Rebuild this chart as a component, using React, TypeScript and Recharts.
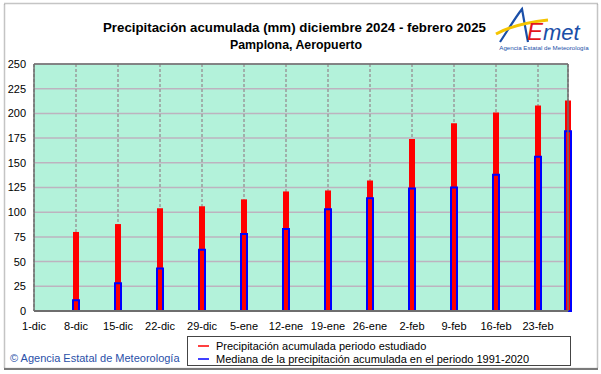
import React from 'react';
import { ComposedChart, Bar, XAxis, YAxis, CartesianGrid, ReferenceLine } from 'recharts';

const tickDays = [0, 7, 14, 21, 28, 35, 42, 49, 56, 63, 70, 77, 84];
const tickLabels = ['1-dic', '8-dic', '15-dic', '22-dic', '29-dic', '5-ene', '12-ene', '19-ene', '26-ene', '2-feb', '9-feb', '16-feb', '23-feb'];
const barDays = [7, 14, 21, 28, 35, 42, 49, 56, 63, 70, 77, 84, 89];
const precipitacion = [80, 88, 104, 106, 113, 121, 122, 132, 174, 190, 201, 208, 213];
const mediana = [11, 28, 43, 62, 78, 83, 103, 114, 124, 125, 138, 156, 182];
const yTicks = [0, 25, 50, 75, 100, 125, 150, 175, 200, 225, 250];

const data = barDays.map((d, i) => ({ day: d, precip: precipitacion[i], median: mediana[i] }));

const FONT = '"Liberation Sans", Arial, sans-serif';

export default function App() {
  return (
    <div style={{ position: 'absolute', left: 0, top: 0, width: 601, height: 374, background: '#fff' }}>
      <ComposedChart width={601} height={374} data={data} margin={{ top: 64, right: 33, bottom: 33, left: 0 }}>
        <CartesianGrid horizontal={true} vertical={false} stroke="#bdb3bf" strokeWidth={1.5} fill="#b3f2da" />
        <CartesianGrid horizontal={false} vertical={true} stroke="#9a9a9a" strokeDasharray="3 2" strokeWidth={1.5} xAxisId="a" />
        <XAxis xAxisId="a" dataKey="day" type="number" domain={[0, 89]} ticks={tickDays} interval={0}
          tickFormatter={(v: number) => tickLabels[tickDays.indexOf(v)]}
          tickLine={false} axisLine={{ stroke: '#6e6e6e', strokeWidth: 2 }} tickMargin={5}
          tick={{ fill: '#000', fontSize: 11, fontFamily: FONT }} />
        <XAxis xAxisId="b" dataKey="day" type="number" domain={[0, 89]} ticks={tickDays} hide />
        <YAxis domain={[0, 250]} ticks={yTicks} width={34} tickLine={false} interval={0}
          axisLine={{ stroke: '#6e6e6e', strokeWidth: 1.5 }}
          tick={{ fill: '#000', fontSize: 11, fontFamily: FONT }} />
        <ReferenceLine y={250} xAxisId="a" stroke="#6e6e6e" strokeWidth={1.5} />
        <ReferenceLine x={89} xAxisId="a" stroke="#6e6e6e" strokeWidth={1.5} />
        <Bar xAxisId="a" dataKey="precip" barSize={6} fill="#ff0000" isAnimationActive={false} />
        <Bar xAxisId="b" dataKey="median" barSize={6} fill="#ff0000" stroke="#0000ff" strokeWidth={2} isAnimationActive={false} />
      </ComposedChart>
      <svg width={601} height={374} style={{ position: 'absolute', left: 0, top: 0, pointerEvents: 'none' }}>
        <rect x={4.5} y={3.5} width={593} height={365} fill="none" stroke="#8a8a8a" strokeWidth={1.5} strokeDasharray="1 1" />
        <line x1={4} y1={369} x2={598} y2={369} stroke="#7a7a7a" strokeWidth={2} />
        <text x={103} y={32} textLength={383} lengthAdjust="spacingAndGlyphs" fontFamily={FONT} fontWeight="bold" fontSize={13} fill="#000">
          Precipitación acumulada (mm) diciembre 2024 - febrero 2025
        </text>
        <text x={230} y={49} textLength={132} lengthAdjust="spacingAndGlyphs" fontFamily={FONT} fontWeight="bold" fontSize={13} fill="#000">
          Pamplona, Aeropuerto
        </text>
        {/* logo */}
        <g>
          <path d="M500 42 C 508 30, 515 18, 522 9 C 524 20, 526 32, 528 42" fill="none" stroke="#1a4fa8" strokeWidth={2.2} />
          <path d="M496 34 C 510 26, 530 22, 548 20" fill="none" stroke="#f5c400" strokeWidth={3} />
          <text x={527} y={40} fontFamily={FONT} fontStyle="italic" fontSize={24} fill="#e3161b">E</text>
          <text x={543} y={40} fontFamily={FONT} fontStyle="italic" fontSize={22} fill="#1a4fa8">met</text>
          <text x={544} y={50} textAnchor="middle" fontFamily={FONT} fontSize={6.2} fill="#1a4fa8">Agencia Estatal de Meteorología</text>
        </g>
        {/* legend */}
        <rect x={187.5} y={336.5} width={383} height={29} fill="#fff" stroke="#444" strokeWidth={1} />
        <line x1={198} y1={346} x2={209} y2={346} stroke="#ff0000" strokeWidth={1.5} />
        <line x1={198} y1={359} x2={209} y2={359} stroke="#0000ff" strokeWidth={1.5} />
        <text x={216} y={349.5} fontFamily={FONT} fontSize={11} fill="#000">Precipitación acumulada periodo estudiado</text>
        <text x={216} y={362.5} fontFamily={FONT} fontSize={11} fill="#000">Mediana de la precipitación acumulada en el periodo 1991-2020</text>
        <text x={10} y={362} fontFamily={FONT} fontSize={11} fill="#2a50a8">© Agencia Estatal de Meteorología</text>
      </svg>
    </div>
  );
}
